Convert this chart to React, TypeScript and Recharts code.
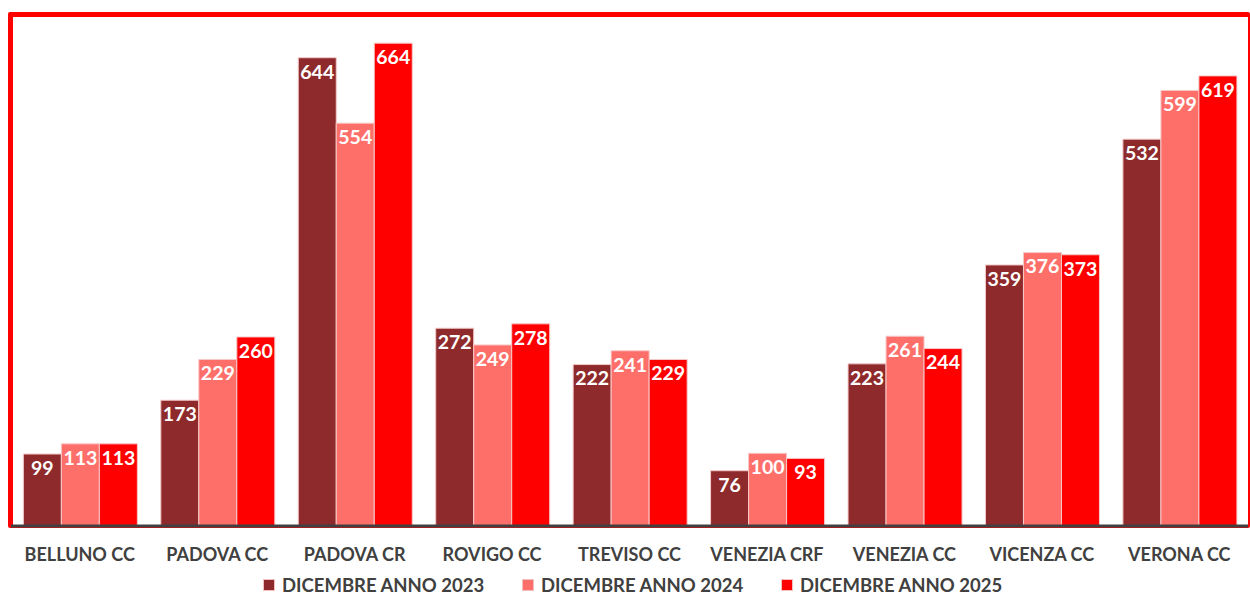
import { BarChart, Bar, XAxis, YAxis, LabelList } from "recharts";

const categories = ["BELLUNO CC", "PADOVA CC", "PADOVA CR", "ROVIGO CC", "TREVISO CC", "VENEZIA CRF", "VENEZIA CC", "VICENZA CC", "VERONA CC"];
const dic2023 = [99, 173, 644, 272, 222, 76, 223, 359, 532];
const dic2024 = [113, 229, 554, 249, 241, 100, 261, 376, 599];
const dic2025 = [113, 260, 664, 278, 229, 93, 244, 373, 619];

const SERIES = [
    { key: "a2023", name: "DICEMBRE ANNO 2023", color: "#8E2A2B" },
    { key: "a2024", name: "DICEMBRE ANNO 2024", color: "#FF6F6A" },
    { key: "a2025", name: "DICEMBRE ANNO 2025", color: "#FF0000" },
];

const FONT = "Lato, 'Open Sans', sans-serif";

const data = categories.map((name, i) => ({
    name,
    a2023: dic2023[i],
    a2024: dic2024[i],
    a2025: dic2025[i],
}));

export default function App() {
    return (
        <div style={{ position: "absolute", left: 0, top: 0, width: 1250, height: 594, background: "#fff" }}>
            {/* red frame round the plot */}
            <div
                style={{
                    position: "absolute",
                    left: 8,
                    top: 12,
                    width: 1242,
                    height: 516,
                    boxSizing: "border-box",
                    borderTop: "5px solid #FF0000",
                    borderLeft: "5px solid #FF0000",
                    borderRight: "2px solid #FF0000",
                    borderBottom: "2px solid #FF0000",
                    borderRadius: 2,
                }}
            />
            <div style={{ position: "absolute", left: 0, top: 0 }}>
                <BarChart
                    width={1250}
                    height={594}
                    data={data}
                    margin={{ top: 17, right: 2, left: 11, bottom: 0 }}
                    barCategoryGap="9%"
                    barGap={0}
                >
                    <XAxis
                        dataKey="name"
                        height={68}
                        axisLine={{ stroke: "#404040", strokeWidth: 3 }}
                        tickLine={false}
                        tick={{ fontFamily: FONT, fontWeight: 700, fontSize: 18, fill: "#404040" }}
                        tickMargin={16}
                        interval={0}
                    />
                    <YAxis hide domain={[0, 700]} />
                    {SERIES.map((s) => (
                        <Bar key={s.key} dataKey={s.key} name={s.name} fill={s.color} stroke="#F5C9C9" strokeWidth={1} isAnimationActive={false}>
                            <LabelList
                                dataKey={s.key}
                                position="insideTop"
                                offset={7}
                                fill="#FFFFFF"
                                style={{ fontFamily: FONT, fontWeight: 700, fontSize: 19.5 }}
                            />
                        </Bar>
                    ))}
                </BarChart>
            </div>
            {/* legend */}
            <div
                style={{
                    position: "absolute",
                    top: 574,
                    left: 263,
                    display: "flex",
                    fontFamily: FONT,
                    fontWeight: 700,
                    fontSize: 18.5,
                    color: "#404040",
                    lineHeight: "22px",
                }}
            >
                {SERIES.map((s) => (
                    <div key={s.key} style={{ display: "flex", alignItems: "center", width: 259 }}>
                        <span style={{ display: "inline-block", width: 10, height: 10, background: s.color, border: "1px solid #f3c0c0", marginRight: 7 }} />
                        <span>{s.name}</span>
                    </div>
                ))}
            </div>
        </div>
    );
}
